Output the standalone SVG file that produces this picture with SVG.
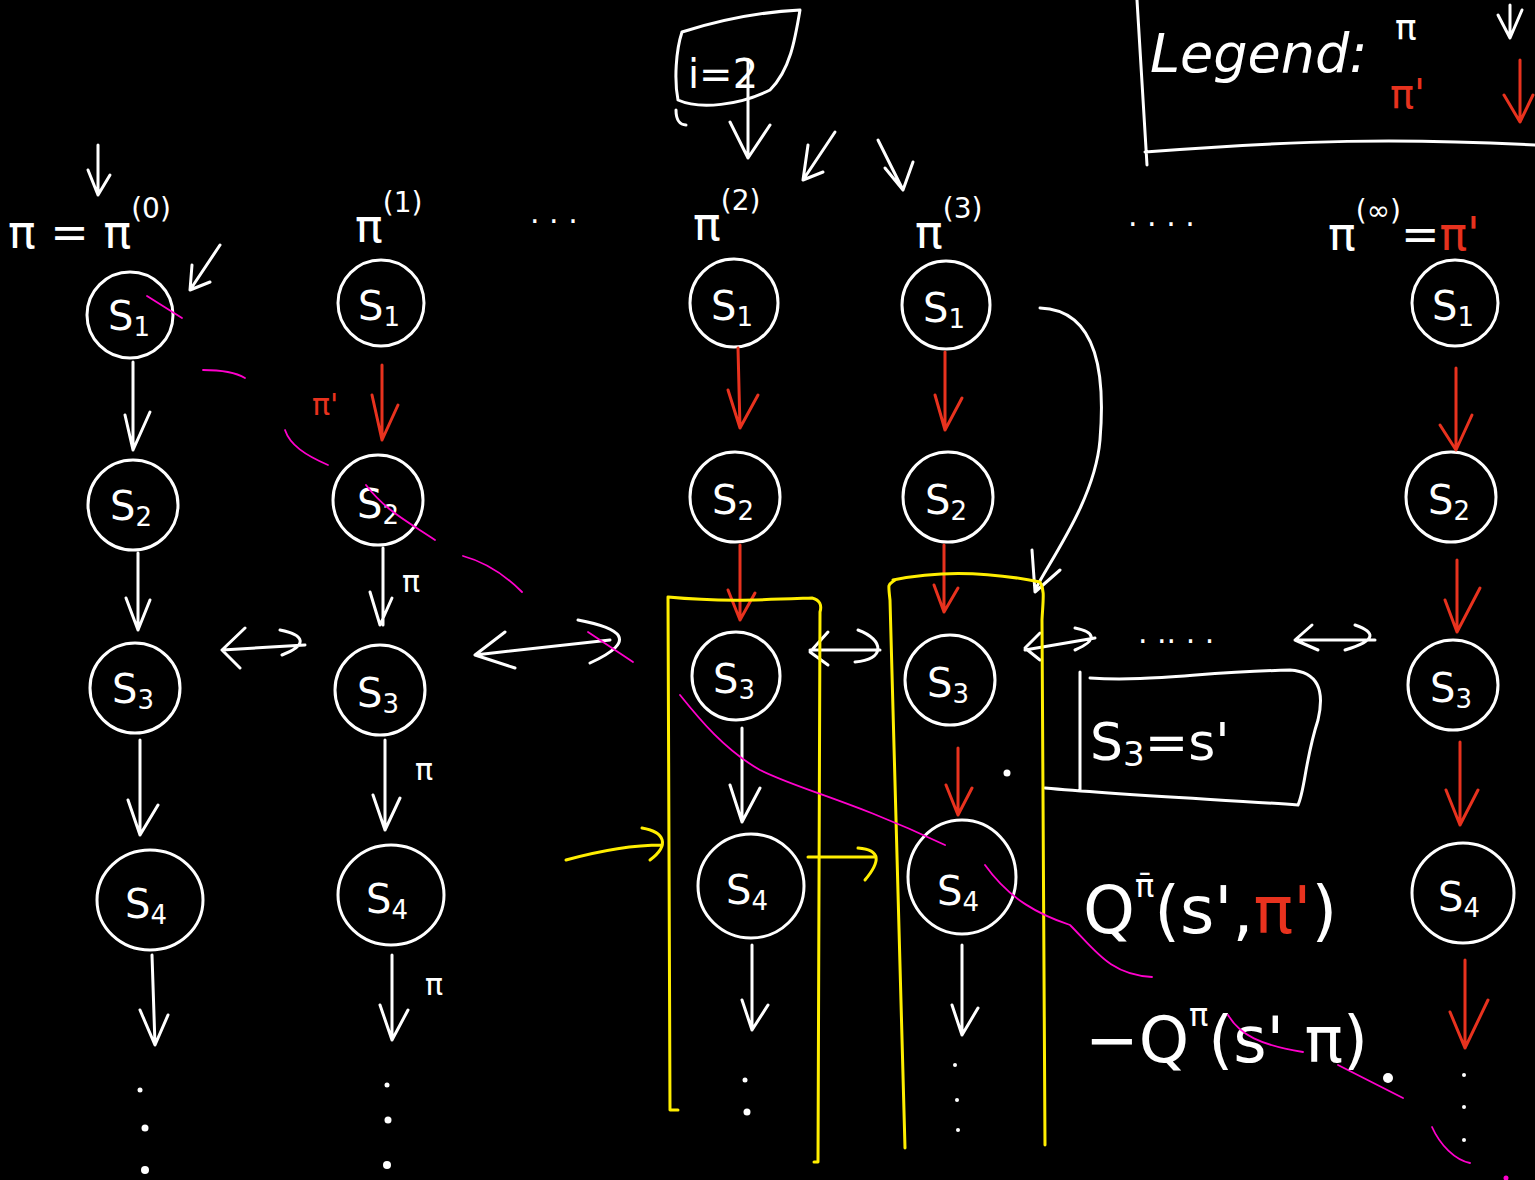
<svg xmlns="http://www.w3.org/2000/svg" width="1535" height="1180" viewBox="0 0 1535 1180">
<style>
.bg{fill:#000}
.n{fill:none;stroke:#fff;stroke-width:3}
.w{fill:none;stroke:#fff;stroke-width:3;stroke-linecap:round;stroke-linejoin:round}
.r{fill:none;stroke:#e8321e;stroke-width:3;stroke-linecap:round;stroke-linejoin:round}
.y{fill:none;stroke:#ffee00;stroke-width:3;stroke-linecap:round;stroke-linejoin:round}
.p{fill:none;stroke:#ff00cc;stroke-width:1.8;stroke-linecap:round}
.t{font-family:"DejaVu Sans",sans-serif;fill:#fff}
.tr{font-family:"DejaVu Sans",sans-serif;fill:#e8321e}
.lbl{font-size:40px}
.sub{font-size:26px}
.d{fill:#fff}
</style>
<rect class="bg" x="0" y="0" width="1535" height="1180"/>

<!-- Legend -->
<g id="legend">
  <path class="w" d="M1137,0 L1147,165 M1145,152 C1300,140 1400,138 1535,145"/>
  <text class="t" x="1150" y="72" font-size="54" font-style="italic">Legend:</text>
  <text class="t" x="1395" y="40" font-size="36">π</text>
  <path class="w" d="M1510,5 L1510,35 M1498,15 L1510,38 L1522,10"/>
  <text class="tr" x="1390" y="108" font-size="40">π'</text>
  <path class="r" d="M1520,60 L1520,120 M1504,95 L1520,122 L1533,95"/>
</g>

<!-- i=2 box -->
<g id="iter">
  <path class="w" d="M682,32 C720,20 760,12 800,10 C795,40 790,70 770,90 C740,105 700,110 678,100 C674,80 676,50 682,32 M676,110 C676,120 680,125 686,125"/>
  <text class="t" x="688" y="88" font-size="40">i=2</text>
  <path class="w" d="M748,60 L748,158 M730,122 L748,158 L770,125"/>
  <path class="w" d="M835,132 L803,180 M808,145 L803,180 L823,172"/>
  <path class="w" d="M878,140 L903,190 M885,168 L903,190 L913,162"/>
</g>

<!-- column headers -->
<g id="headers">
  <text class="t" x="8" y="248" font-size="46">π = π<tspan dy="-30" font-size="28">(0)</tspan></text>
  <path class="w" d="M98,145 L98,195 M88,170 L98,195 L110,175"/>
  <path class="w" d="M220,245 L190,290 M192,265 L190,290 L210,282"/>
  <text class="t" x="355" y="242" font-size="46">π<tspan dy="-30" font-size="28">(1)</tspan></text>
  <text class="t" x="530" y="232" font-size="30">· · ·</text>
  <text class="t" x="693" y="240" font-size="46">π<tspan dy="-30" font-size="28">(2)</tspan></text>
  <text class="t" x="915" y="248" font-size="46">π<tspan dy="-30" font-size="28">(3)</tspan></text>
  <text class="t" x="1128" y="235" font-size="30">·  ·  ·  ·</text>
  <text class="t" x="1328" y="250" font-size="46">π<tspan dy="-30" font-size="28">(∞)</tspan><tspan dy="30">=</tspan><tspan fill="#e8321e">π'</tspan></text>
</g>

<!-- Column 0 -->
<g id="c0s1"><circle class="n" cx="130" cy="315" r="43"/><text class="t lbl" x="108" y="330">S<tspan class="sub" dy="6">1</tspan></text></g>
<g id="c0s2"><circle class="n" cx="133" cy="505" r="45"/><text class="t lbl" x="110" y="520">S<tspan class="sub" dy="6">2</tspan></text></g>
<g id="c0s3"><circle class="n" cx="135" cy="688" r="45"/><text class="t lbl" x="112" y="703">S<tspan class="sub" dy="6">3</tspan></text></g>
<g id="c0s4"><ellipse class="n" cx="150" cy="900" rx="53" ry="50"/><text class="t lbl" x="125" y="918">S<tspan class="sub" dy="6">4</tspan></text></g>

<!-- Column 1 -->
<g id="c1s1"><circle class="n" cx="381" cy="303" r="43"/><text class="t lbl" x="358" y="320">S<tspan class="sub" dy="6">1</tspan></text></g>
<g id="c1s2"><circle class="n" cx="378" cy="500" r="45"/><text class="t lbl" x="357" y="518">S<tspan class="sub" dy="6">2</tspan></text></g>
<g id="c1s3"><circle class="n" cx="380" cy="690" r="45"/><text class="t lbl" x="357" y="707">S<tspan class="sub" dy="6">3</tspan></text></g>
<g id="c1s4"><ellipse class="n" cx="391" cy="895" rx="53" ry="50"/><text class="t lbl" x="366" y="913">S<tspan class="sub" dy="6">4</tspan></text></g>

<!-- Column 2 -->
<g id="c2s1"><circle class="n" cx="734" cy="303" r="44"/><text class="t lbl" x="711" y="320">S<tspan class="sub" dy="6">1</tspan></text></g>
<g id="c2s2"><circle class="n" cx="735" cy="497" r="45"/><text class="t lbl" x="712" y="514">S<tspan class="sub" dy="6">2</tspan></text></g>
<g id="c2s3"><circle class="n" cx="736" cy="676" r="44"/><text class="t lbl" x="713" y="693">S<tspan class="sub" dy="6">3</tspan></text></g>
<g id="c2s4"><ellipse class="n" cx="751" cy="886" rx="53" ry="52"/><text class="t lbl" x="726" y="904">S<tspan class="sub" dy="6">4</tspan></text></g>

<!-- Column 3 -->
<g id="c3s1"><circle class="n" cx="946" cy="305" r="44"/><text class="t lbl" x="923" y="322">S<tspan class="sub" dy="6">1</tspan></text></g>
<g id="c3s2"><circle class="n" cx="948" cy="497" r="45"/><text class="t lbl" x="925" y="514">S<tspan class="sub" dy="6">2</tspan></text></g>
<g id="c3s3"><circle class="n" cx="950" cy="680" r="45"/><text class="t lbl" x="927" y="697">S<tspan class="sub" dy="6">3</tspan></text></g>
<g id="c3s4"><ellipse class="n" cx="962" cy="877" rx="54" ry="57"/><text class="t lbl" x="937" y="905">S<tspan class="sub" dy="6">4</tspan></text></g>

<!-- Column 4 -->
<g id="c4s1"><circle class="n" cx="1455" cy="303" r="43"/><text class="t lbl" x="1432" y="320">S<tspan class="sub" dy="6">1</tspan></text></g>
<g id="c4s2"><circle class="n" cx="1451" cy="497" r="45"/><text class="t lbl" x="1428" y="514">S<tspan class="sub" dy="6">2</tspan></text></g>
<g id="c4s3"><circle class="n" cx="1453" cy="685" r="45"/><text class="t lbl" x="1430" y="702">S<tspan class="sub" dy="6">3</tspan></text></g>
<g id="c4s4"><ellipse class="n" cx="1463" cy="893" rx="51" ry="50"/><text class="t lbl" x="1438" y="911">S<tspan class="sub" dy="6">4</tspan></text></g>

<!-- S3 = s' box -->
<g id="s3box">
  <path class="w" d="M1080,672 L1080,790 M1090,678 C1150,682 1200,672 1290,670 C1318,672 1325,690 1318,720 C1305,760 1305,790 1298,805 C1230,800 1120,795 1045,788"/>
  <text class="t" x="1090" y="760" font-size="52">S<tspan font-size="34" dy="6">3</tspan><tspan dy="-6">=s'</tspan></text>
</g>

<!-- Q expressions -->
<g id="qexpr">
  <text class="t" x="1083" y="933" font-size="66">Q<tspan font-size="32" dy="-36">π̄</tspan><tspan dy="36">(s',</tspan><tspan fill="#e8321e">π'</tspan>)</text>
  <text class="t" x="1085" y="1062" font-size="64">−Q<tspan font-size="32" dy="-36">π</tspan><tspan dy="36">(s' π)</tspan></text>
  <circle class="d" cx="1388" cy="1078" r="5"/>
</g>

<!-- Connectors -->
<g id="connectors">
  <!-- column 0 -->
  <path class="w" d="M133,362 L133,450 M125,415 L133,450 L150,412"/>
  <path class="w" d="M138,553 L138,630 M126,598 L138,630 L150,600"/>
  <path class="w" d="M140,740 L140,835 M128,800 L140,835 L158,805"/>
  <path class="w" d="M152,955 L155,1045 M140,1010 L155,1045 L168,1015"/>
  <!-- column 1 -->
  <path class="r" d="M382,365 L382,440 M372,395 L382,440 L398,405"/>
  <text class="tr" x="312" y="415" font-size="30">π'</text>
  <path class="w" d="M383,548 L383,625 M370,592 L380,625 L392,598"/>
  <text class="t" x="402" y="592" font-size="30">π</text>
  <path class="w" d="M385,740 L385,830 M373,795 L385,830 L400,798"/>
  <text class="t" x="415" y="780" font-size="30">π</text>
  <path class="w" d="M392,955 L392,1040 M380,1005 L392,1040 L408,1010"/>
  <text class="t" x="425" y="995" font-size="30">π</text>
  <!-- column 2 -->
  <path class="r" d="M738,348 L740,428 M728,390 L740,428 L758,395"/>
  <path class="r" d="M740,545 L740,620 M728,590 L740,620 L755,593"/>
  <path class="w" d="M742,728 L742,822 M730,785 L742,822 L760,788"/>
  <path class="w" d="M752,945 L752,1030 M742,1000 L752,1030 L768,1005"/>
  <!-- column 3 -->
  <path class="r" d="M945,352 L945,430 M935,395 L945,430 L962,398"/>
  <path class="r" d="M944,545 L944,612 M934,585 L944,612 L958,588"/>
  <path class="r" d="M958,748 L958,815 M946,785 L958,815 L972,788"/>
  <path class="w" d="M962,945 L962,1035 M952,1005 L962,1035 L978,1008"/>
  <!-- column 4 -->
  <path class="r" d="M1456,368 L1456,450 M1440,425 L1456,450 L1472,415"/>
  <path class="r" d="M1457,560 L1457,632 M1445,600 L1457,632 L1480,588"/>
  <path class="r" d="M1460,742 L1460,825 M1446,790 L1460,825 L1478,790"/>
  <path class="r" d="M1465,960 L1465,1048 M1450,1012 L1465,1048 L1488,1000"/>
  <!-- horizontal double arrows -->
  <path class="w" d="M222,650 L305,645 M245,628 L222,650 L240,668 M280,630 C305,635 308,645 282,655"/>
  <path class="w" d="M475,655 L610,640 M505,632 L475,655 L515,668 M578,620 C620,628 640,640 590,663"/>
  <path class="w" d="M810,650 L880,650 M828,632 L810,652 L828,665 M858,630 C885,640 885,660 855,662"/>
  <path class="w" d="M1025,650 L1095,638 M1040,633 L1025,648 L1040,660 M1075,628 C1095,632 1098,640 1075,650"/>
  <path class="w" d="M1295,640 L1375,640 M1312,625 L1295,640 L1318,650 M1355,625 C1375,632 1378,640 1345,650"/>
  <text class="t" x="1138" y="652" font-size="30">· ·· · ·</text>
  <!-- long curved arrow -->
  <path class="w" d="M1040,308 C1100,310 1105,380 1100,440 C1095,500 1050,560 1035,590 M1032,550 L1035,592 L1060,570"/>
  <!-- yellow boxes -->
  <path class="y" d="M668,597 C720,602 760,600 812,598 C820,600 822,605 820,612 L818,1162 L814,1162 M668,597 L670,1110 L678,1110"/>
  <path class="y" d="M893,580 C940,570 990,572 1040,582 C1045,590 1043,600 1042,620 L1045,1145 M895,580 C888,585 888,582 890,600 L905,1148"/>
  <path class="y" d="M566,860 C610,848 640,845 662,845 M642,828 C665,832 670,845 650,860"/>
  <path class="y" d="M808,857 L876,857 M858,848 C882,850 880,862 865,880"/>
  <!-- dots -->
  <circle class="d" cx="140" cy="1090" r="2.5"/><circle class="d" cx="145" cy="1128" r="3.5"/><circle class="d" cx="145" cy="1170" r="4"/>
  <circle class="d" cx="387" cy="1085" r="2.5"/><circle class="d" cx="388" cy="1120" r="3.5"/><circle class="d" cx="387" cy="1165" r="4"/>
  <circle class="d" cx="745" cy="1080" r="2.5"/><circle class="d" cx="747" cy="1112" r="3.5"/>
  <circle class="d" cx="955" cy="1065" r="2"/><circle class="d" cx="957" cy="1100" r="2"/><circle class="d" cx="958" cy="1130" r="2"/>
  <circle class="d" cx="1464" cy="1075" r="2"/><circle class="d" cx="1464" cy="1107" r="2"/><circle class="d" cx="1464" cy="1140" r="2"/>
  <circle class="d" cx="1007" cy="773" r="3.5"/>
  <!-- pink strokes -->
  <path class="p" d="M147,296 L182,318"/>
  <path class="p" d="M203,370 C220,370 235,372 245,378"/>
  <path class="p" d="M285,430 C290,445 305,455 328,465"/>
  <path class="p" d="M366,485 C385,510 405,520 435,540"/>
  <path class="p" d="M463,556 C485,562 505,575 522,592"/>
  <path class="p" d="M588,632 L633,662"/>
  <path class="p" d="M680,695 C700,720 725,750 760,770 C800,790 850,800 945,845"/>
  <path class="p" d="M985,865 C1010,900 1040,915 1070,925 C1095,950 1110,975 1152,977"/>
  <path class="p" d="M1228,1015 C1240,1035 1260,1045 1303,1052"/>
  <path class="p" d="M1338,1065 L1403,1098"/>
  <path class="p" d="M1432,1127 C1440,1145 1455,1160 1470,1163"/>
  <circle cx="1506" cy="1178" r="2.5" fill="#ff00cc"/>
</g>
</svg>
